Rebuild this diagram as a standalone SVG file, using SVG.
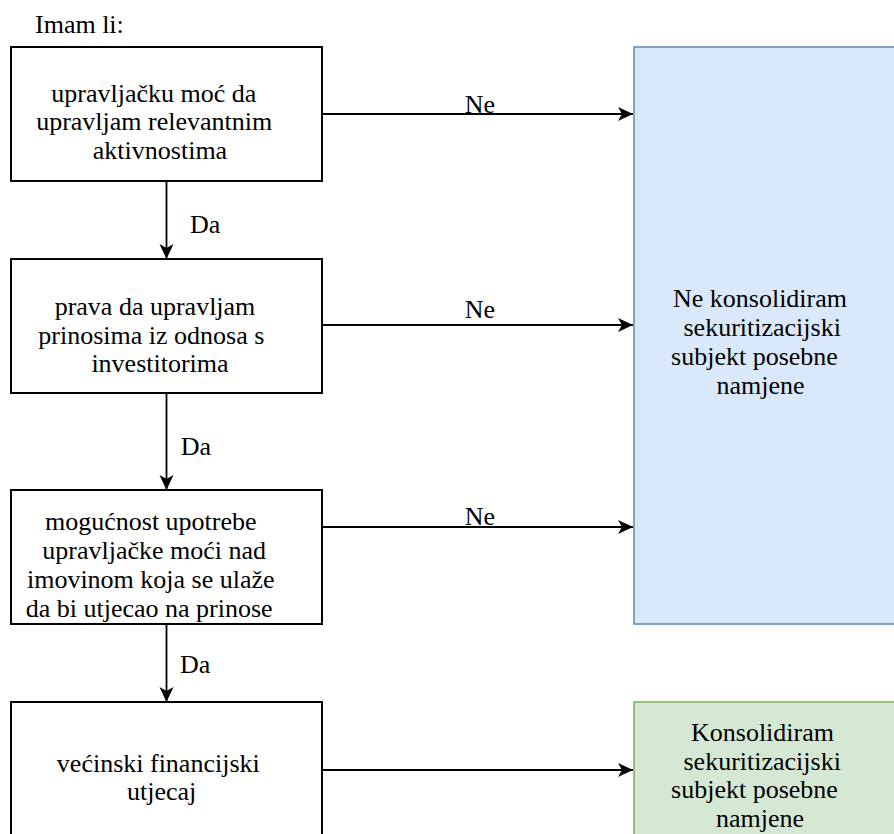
<svg xmlns="http://www.w3.org/2000/svg" width="894" height="834" viewBox="0 0 894 834">
  <style>
    text { font-family: "Liberation Serif", serif; font-size: 26px; fill: #000; text-anchor: middle; }
    text.s { text-anchor: start; }
    .box { fill: #ffffff; stroke: #000000; stroke-width: 2; }
    .blue { fill: #dae8fc; stroke: #6c8ebf; stroke-width: 1.6; }
    .green { fill: #d5e8d4; stroke: #82b366; stroke-width: 1.6; }
    .conn { fill: none; stroke: #000000; stroke-width: 1.8; marker-end: url(#arrow); }
  </style>
  <defs>
    <marker id="arrow" markerUnits="userSpaceOnUse" markerWidth="16" markerHeight="15" refX="15" refY="7" orient="auto">
      <path d="M0,0 L15,7 L0,14 L4,7 Z" fill="#000000"/>
    </marker>
  </defs>
  <rect width="894" height="834" fill="#ffffff"/>

  <text id="title" class="s" x="35" y="33">Imam li:</text>

  <g id="node-upravljacka-moc">
    <rect class="box" x="11" y="47" width="311" height="134"/>
    <text x="153.8" y="101.5">upravljačku moć da</text>
    <text x="154.2" y="130">upravljam relevantnim</text>
    <text x="160" y="158.5">aktivnostima</text>
  </g>

  <g id="node-prava">
    <rect class="box" x="11" y="259" width="311" height="134"/>
    <text x="155" y="314.5">prava da upravljam</text>
    <text x="151.3" y="343.5">prinosima iz odnosa s</text>
    <text x="160" y="372">investitorima</text>
  </g>

  <g id="node-mogucnost">
    <rect class="box" x="11" y="490" width="311" height="134"/>
    <text x="150.8" y="530">mogućnost upotrebe</text>
    <text x="154.2" y="559">upravljačke moći nad</text>
    <text x="150.8" y="588">imovinom koja se ulaže</text>
    <text x="149.2" y="616.5">da bi utjecao na prinose</text>
  </g>

  <g id="node-vecinski">
    <rect class="box" x="11" y="702" width="311" height="200"/>
    <text x="158.3" y="771.5">većinski financijski</text>
    <text x="161.7" y="800">utjecaj</text>
  </g>

  <g id="node-ne-konsolidiram">
    <rect class="blue" x="634" y="47" width="300" height="577"/>
    <text x="760" y="306.5">Ne konsolidiram</text>
    <text x="762.2" y="335.5">sekuritizacijski</text>
    <text x="754.5" y="364.5">subjekt posebne</text>
    <text x="760.5" y="393.5">namjene</text>
  </g>

  <g id="node-konsolidiram">
    <rect class="green" x="634" y="702" width="300" height="200"/>
    <text x="762.5" y="741">Konsolidiram</text>
    <text x="762.2" y="769.5">sekuritizacijski</text>
    <text x="754.5" y="798">subjekt posebne</text>
    <text x="760" y="826.5">namjene</text>
  </g>

  <g id="connectors">
    <path class="conn" d="M322,114 L633,114"/>
    <path class="conn" d="M322,325 L633,325"/>
    <path class="conn" d="M322,527 L633,527"/>
    <path class="conn" d="M322,770 L633,770"/>
    <path class="conn" d="M166.5,181 L166.5,259"/>
    <path class="conn" d="M166.5,393 L166.5,490"/>
    <path class="conn" d="M166.5,624 L166.5,702"/>
    <text x="480" y="113">Ne</text>
    <text x="480" y="318">Ne</text>
    <text x="480" y="525">Ne</text>
    <text class="s" x="190" y="233">Da</text>
    <text class="s" x="180.7" y="455">Da</text>
    <text class="s" x="180" y="672.5">Da</text>
  </g>
</svg>
